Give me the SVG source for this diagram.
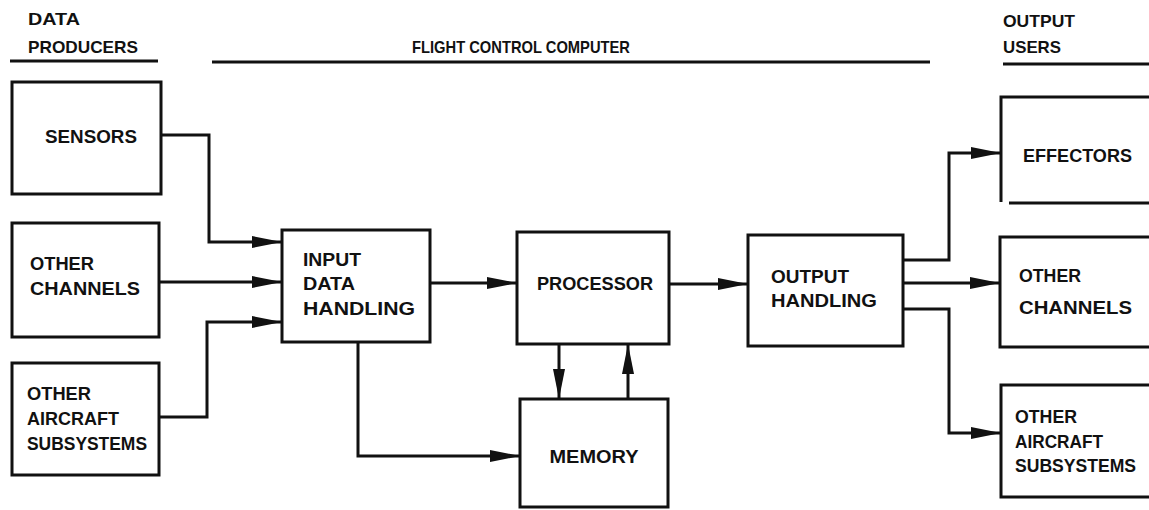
<svg xmlns="http://www.w3.org/2000/svg" width="1149" height="510" viewBox="0 0 1149 510">
<style>
  .box { fill: #fff; stroke: #111; stroke-width: 3; }
  .open { fill: none; stroke: #111; stroke-width: 3; }
  .t { font-family: "Liberation Sans", Arial, sans-serif; font-weight: bold; font-size: 18px; fill: #111; }
  .h { font-family: "Liberation Sans", Arial, sans-serif; font-weight: bold; font-size: 17px; fill: #111; }
  .rule { stroke: #111; stroke-width: 3; }
  .c { fill: none; stroke: #111; stroke-width: 3; }
</style>
<defs>
  <marker id="arr" markerUnits="userSpaceOnUse" markerWidth="30" markerHeight="12" refX="30" refY="6" orient="auto">
    <path d="M0,0 L30,6 L0,12 z" fill="#111"/>
  </marker>
</defs>
<rect width="1149" height="510" fill="#fff"/>

<g id="headers">
  <text class="h" x="28" y="25" textLength="52" lengthAdjust="spacingAndGlyphs">DATA</text>
  <text class="h" x="28" y="53" textLength="110" lengthAdjust="spacingAndGlyphs">PRODUCERS</text>
  <line class="rule" x1="10" y1="61" x2="158" y2="61"/>
  <text class="h" x="412" y="53" textLength="218" lengthAdjust="spacingAndGlyphs">FLIGHT CONTROL COMPUTER</text>
  <line class="rule" x1="212" y1="62" x2="930" y2="62"/>
  <text class="h" x="1003" y="27" textLength="72" lengthAdjust="spacingAndGlyphs">OUTPUT</text>
  <text class="h" x="1003" y="53" textLength="58" lengthAdjust="spacingAndGlyphs">USERS</text>
  <line class="rule" x1="1003" y1="64" x2="1149" y2="64"/>
</g>

<g id="sensors">
  <rect class="box" x="12" y="82" width="149" height="112"/>
  <text class="t" x="45" y="143" textLength="92" lengthAdjust="spacingAndGlyphs">SENSORS</text>
</g>
<g id="other-channels-in">
  <rect class="box" x="12" y="223" width="147" height="114"/>
  <text class="t" x="30" y="270" textLength="64" lengthAdjust="spacingAndGlyphs">OTHER</text>
  <text class="t" x="30" y="295" textLength="110" lengthAdjust="spacingAndGlyphs">CHANNELS</text>
</g>
<g id="other-aircraft-in">
  <rect class="box" x="12" y="363" width="147" height="112"/>
  <text class="t" x="27" y="400" textLength="64" lengthAdjust="spacingAndGlyphs">OTHER</text>
  <text class="t" x="27" y="425" textLength="92" lengthAdjust="spacingAndGlyphs">AIRCRAFT</text>
  <text class="t" x="27" y="450" textLength="120" lengthAdjust="spacingAndGlyphs">SUBSYSTEMS</text>
</g>
<g id="input-data-handling">
  <rect class="box" x="282" y="230" width="148" height="112"/>
  <text class="t" x="303" y="266" textLength="58" lengthAdjust="spacingAndGlyphs">INPUT</text>
  <text class="t" x="303" y="290" textLength="52" lengthAdjust="spacingAndGlyphs">DATA</text>
  <text class="t" x="303" y="315" textLength="112" lengthAdjust="spacingAndGlyphs">HANDLING</text>
</g>
<g id="processor">
  <rect class="box" x="517" y="232" width="152" height="112"/>
  <text class="t" x="595" y="290" text-anchor="middle" textLength="116" lengthAdjust="spacingAndGlyphs">PROCESSOR</text>
</g>
<g id="memory">
  <rect class="box" x="520" y="399" width="148" height="108"/>
  <text class="t" x="594" y="463" text-anchor="middle" textLength="89" lengthAdjust="spacingAndGlyphs">MEMORY</text>
</g>
<g id="output-handling">
  <rect class="box" x="748" y="235" width="155" height="111"/>
  <text class="t" x="771" y="283" textLength="78" lengthAdjust="spacingAndGlyphs">OUTPUT</text>
  <text class="t" x="771" y="307" textLength="106" lengthAdjust="spacingAndGlyphs">HANDLING</text>
</g>
<g id="effectors">
  <path class="open" d="M1160,97 H1001 V202 M1009,203 H1160"/>
  <text class="t" x="1023" y="162" textLength="109" lengthAdjust="spacingAndGlyphs">EFFECTORS</text>
</g>
<g id="other-channels-out">
  <path class="open" d="M1160,237 H1000 V347 H1160"/>
  <text class="t" x="1019" y="282" textLength="62" lengthAdjust="spacingAndGlyphs">OTHER</text>
  <text class="t" x="1019" y="314" textLength="113" lengthAdjust="spacingAndGlyphs">CHANNELS</text>
</g>
<g id="other-aircraft-out">
  <path class="open" d="M1160,385 H1001 V497 H1160"/>
  <text class="t" x="1015" y="423" textLength="62" lengthAdjust="spacingAndGlyphs">OTHER</text>
  <text class="t" x="1015" y="448" textLength="88" lengthAdjust="spacingAndGlyphs">AIRCRAFT</text>
  <text class="t" x="1015" y="472" textLength="121" lengthAdjust="spacingAndGlyphs">SUBSYSTEMS</text>
</g>

<g id="connectors">
  <path class="c" d="M161,135 H209 V242 H282" marker-end="url(#arr)"/>
  <path class="c" d="M159,282 H282" marker-end="url(#arr)"/>
  <path class="c" d="M159,417 H207 V322 H282" marker-end="url(#arr)"/>
  <path class="c" d="M430,283 H517" marker-end="url(#arr)"/>
  <path class="c" d="M358,342 V456 H520" marker-end="url(#arr)"/>
  <path class="c" d="M669,284 H748" marker-end="url(#arr)"/>
  <path class="c" d="M559,344 V399" marker-end="url(#arr)"/>
  <path class="c" d="M628,399 V344" marker-end="url(#arr)"/>
  <path class="c" d="M903,260 H949 V153 H1001" marker-end="url(#arr)"/>
  <path class="c" d="M903,283 H1000" marker-end="url(#arr)"/>
  <path class="c" d="M903,309 H949 V433 H1001" marker-end="url(#arr)"/>
</g>
</svg>
